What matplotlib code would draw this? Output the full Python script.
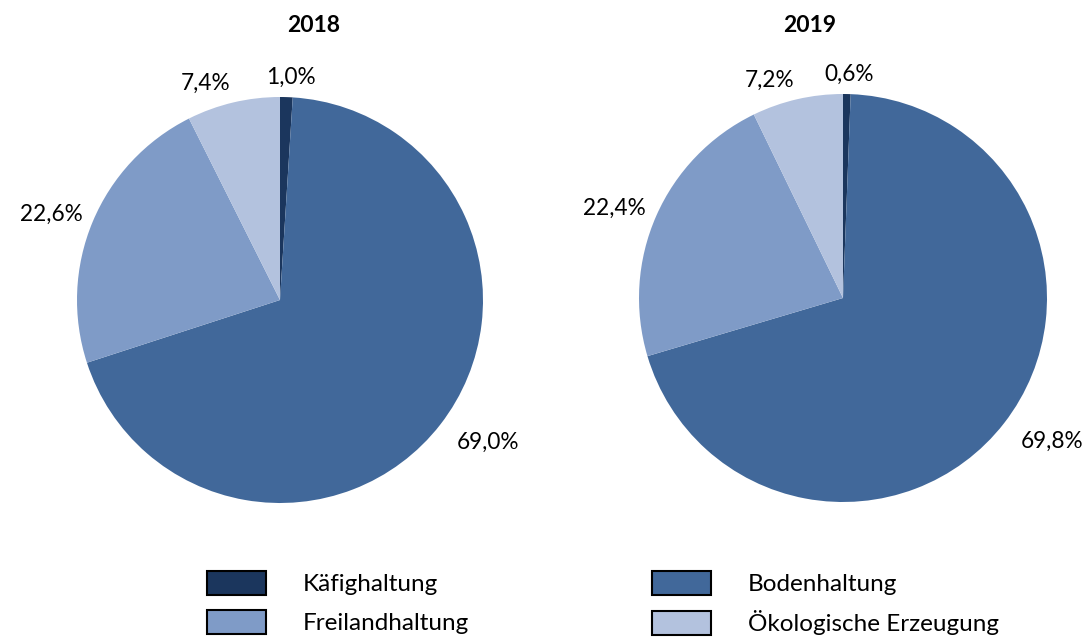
import numpy as np
import matplotlib
matplotlib.use('Agg')
import matplotlib.pyplot as plt
from matplotlib.patches import Patch

plt.rcParams['font.family'] = ['Lato', 'DejaVu Sans']

categories = ['Käfighaltung', 'Bodenhaltung', 'Freilandhaltung', 'Ökologische Erzeugung']
colors = ['#1b365d', '#41689a', '#7f9bc7', '#b3c2de']
years = ['2018', '2019']
shares_2018 = [1.0, 69.0, 22.6, 7.4]
shares_2019 = [0.6, 69.8, 22.4, 7.2]
labels_2018 = ['1,0%', '69,0%', '22,6%', '7,4%']
labels_2019 = ['0,6%', '69,8%', '22,4%', '7,2%']

W, H = 1091, 643
fig = plt.figure(figsize=(W / 100, H / 100), dpi=100)

# pie centres / radii in pixels (layout)
pies = [(280, 300, 203), (843, 298, 204)]
title_x = [314, 810]

data = [(shares_2018, labels_2018), (shares_2019, labels_2019)]
axes = []
for (cx, cy, r), (vals, labs), yr, tx in zip(pies, data, years, title_x):
    half = 1.25 * r
    ax = fig.add_axes([(cx - half) / W, (H - cy - half) / H, 2 * half / W, 2 * half / H])
    wedges, _ = ax.pie(vals, colors=colors, startangle=90, counterclock=False,
                       wedgeprops=dict(linewidth=0))
    ax.set_xlim(-1.25, 1.25)
    ax.set_ylim(-1.25, 1.25)
    ax.set_aspect('equal')
    fig.text(tx / W, 1 - 25 / H, yr, ha='center', va='center', fontsize=16.5, fontweight='bold')
    axes.append((ax, wedges, labs, r))

fig.canvas.draw()
renderer = fig.canvas.get_renderer()
gap = 11  # px outside the circle
for ax, wedges, labs, r in axes:
    for w, lab in zip(wedges, labs):
        mid = np.deg2rad((w.theta1 + w.theta2) / 2)
        c, s = np.cos(mid), np.sin(mid)
        t = ax.text(0, 0, lab, ha='center', va='center', fontsize=16.3)
        bb = t.get_window_extent(renderer)
        tw, th = bb.width, bb.height * 0.8
        fx = np.clip(c / 0.2, -1, 1)
        g = gap + 16 * max(0, -s)  # labels below sit a bit further out
        dx = (r + g) * c + tw / 2 * fx
        dy = (r + g) * s + th / 2 * s
        x0, y0 = ax.transData.transform((0, 0))
        t.set_position(ax.transData.inverted().transform((x0 + dx, y0 + dy)))

# legend: two columns of two entries each
for items, lx in zip([[0, 2], [1, 3]], [207, 652]):
    proxies = [Patch(facecolor=colors[i], edgecolor='black', linewidth=1.5) for i in items]
    fig.legend(proxies, [categories[i] for i in items], loc='upper left',
               bbox_to_anchor=(lx / W, 1 - 571 / H), frameon=False, fontsize=17.5,
               borderpad=0, borderaxespad=0, handlelength=2.43, handleheight=1.12,
               handletextpad=1.52, labelspacing=0.62)

fig.savefig('out.png', dpi=100)
